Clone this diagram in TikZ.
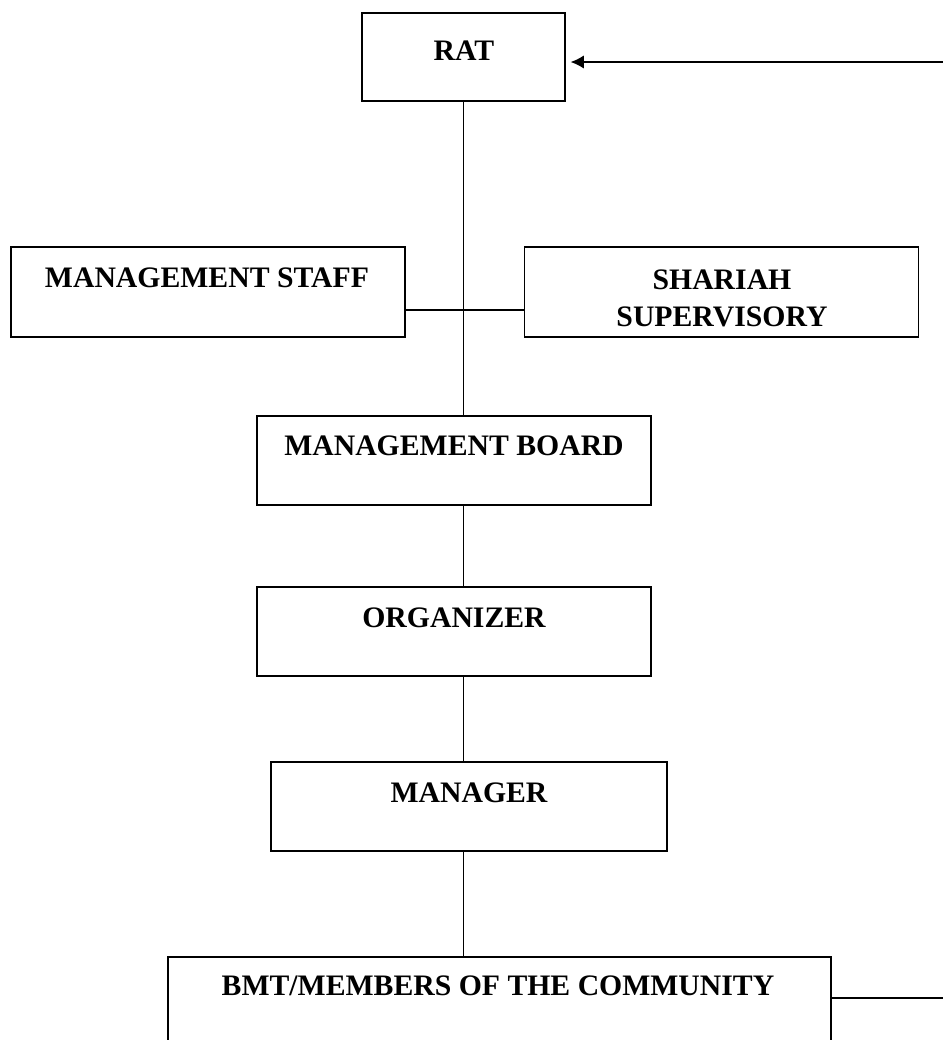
\documentclass[tikz,border=0pt]{standalone}
\usepackage{fontspec}
\setmainfont{Liberation Serif}
\usetikzlibrary{arrows.meta,calc}

\begin{document}
\begin{tikzpicture}[x=0.75pt,y=-0.75pt,>=Latex,every node/.style={inner sep=0pt}, orgbox/.style={draw, line width=1.3pt}, orglabel/.style={font=\fontsize{22.3pt}{27.75pt}\selectfont\bfseries, align=center}, link/.style={line width=1.3pt}]
        \useasboundingbox (0,0) rectangle (943,1040);
        \clip (0,0) rectangle (943,1040);

        \node[orgbox, minimum width=152.25pt, minimum height=66pt] (rat) at (463.5,57) {};
        \node[orgbox, minimum width=295.5pt, minimum height=67.5pt] (staff) at (208,292) {};
        \node[orgbox, minimum width=295.5pt, minimum height=67.5pt] (shariah) at (721.5,292) {};
        \node[orgbox, minimum width=295.5pt, minimum height=66.75pt] (board) at (454,460.5) {};
        \node[orgbox, minimum width=295.5pt, minimum height=66.75pt] (organizer) at (454,631.5) {};
        \node[orgbox, minimum width=297pt, minimum height=66.75pt] (manager) at (469,806.5) {};
        \node[orgbox, minimum width=497.25pt, minimum height=90pt] (bmt) at (499.5,1017) {};

        \node[orglabel, anchor=base] (ratText) at (464,60) {RAT};
        \node[orglabel, anchor=base] (staffText) at (207,287) {MANAGEMENT STAFF};
        \node[orglabel] (shariahText) at (722,298.5) {SHARIAH\\SUPERVISORY};
        \node[orglabel, anchor=base] (boardText) at (454,455) {MANAGEMENT BOARD};
        \node[orglabel, anchor=base] (organizerText) at (454,627) {ORGANIZER};
        \node[orglabel, anchor=base] (managerText) at (469,802) {MANAGER};
        \node[orglabel, anchor=base] (bmtText) at (498,995) {BMT/MEMBERS OF THE COMMUNITY};

        \coordinate (feed) at (943,62);
        \coordinate (back) at (943,998);

        \draw[link] (rat.south) -- (rat.south |- board.north);
        \draw[link] ([yshift=21pt]staff.south east) -- ([yshift=21pt]shariah.south west);
        \draw[link] (board.south -| rat.south) -- (organizer.north -| rat.south);
        \draw[link] (organizer.south -| rat.south) -- (manager.north -| rat.south);
        \draw[link] (manager.south -| rat.south) -- (bmt.north -| rat.south);
        \draw[link] (bmt.east |- back) -- (back);
        \draw[link, -{Latex[length=10pt,width=10pt]}, shorten >=3.5pt] (feed) -- (feed -| rat.east);
    \end{tikzpicture}
\end{document}
